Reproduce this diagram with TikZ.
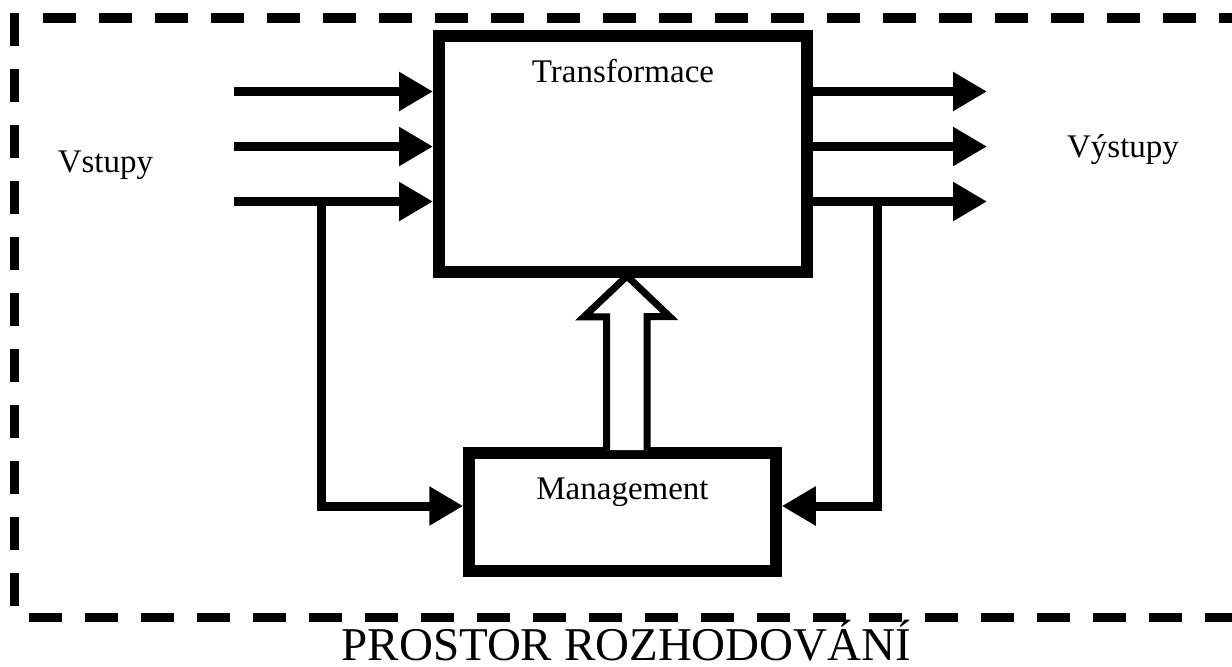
\documentclass[tikz,border=0pt]{standalone}
\usepackage{fontspec}
\setmainfont{Liberation Serif}
\usetikzlibrary{arrows.meta,calc}

\begin{document}
\begin{tikzpicture}[x=0.5pt,y=-0.5pt,
        block/.style={draw, line width=6pt, inner sep=0pt},
        txt/.style={anchor=base, inner sep=0pt, font=\fontsize{16.5}{19}\selectfont},
        flow/.style={line width=4.5pt, -{Triangle[length=17pt,width=18.5pt]}},
        hollow/.style={draw, fill=white, line width=3.5pt},
        frame/.style={line width=4.75pt, dash pattern=on 16.5pt off 11.5pt}]
        \useasboundingbox (0,0) rectangle (1232,666);
        \clip (0,0) rectangle (1232,666);

        % prostor rozhodovani
        \draw[frame] (14.5,13) -- (14.5,612);
        \draw[frame] (43,18) -- (1260,18);
        \draw[frame] (29,617.5) -- (1260,617.5);
        \node[txt, font=\fontsize{23.5}{28}\selectfont] (space) at (626.5,660) {PROSTOR ROZHODOVÁNÍ};

        \node[block, minimum width=184pt, minimum height=118pt] (trans) at (623,154) {};
        \node[txt] (transname) at (623,82) {Transformace};
        \node[block, line width=5.75pt, minimum width=153.5pt, minimum height=59pt] (mgmt) at (622.5,512) {};
        \node[txt] (mgmtname) at (622.5,499) {Management};

        \node[txt] (vstupy) at (105.5,172) {Vstupy};
        \node[txt] (vystupy) at (1123,157) {Výstupy};

        \foreach \i/\y in {1/91.5,2/146.5,3/201.5} {
            \coordinate (in\i) at (234,\y);
            \coordinate (out\i) at (987,\y);
            \draw[flow] (in\i) -- (in\i -| trans.west);
            \draw[flow] (out\i -| trans.east) -- (out\i);
        }

        % zpetna vazba
        \coordinate (fbl) at (321,506);
        \coordinate (fbr) at (877.5,506);
        \draw[flow] (in3 -| fbl) |- (fbl -| mgmt.west);
        \draw[flow] (out3 -| fbr) |- (fbr -| mgmt.east);

        \draw[hollow] ($(mgmt.north)+(-16,3)$) -- ++(0,-133.5) -- ++(-22.5,0)
            -- ($(trans.south)+(4,-2)$) -- ++(42.5,40.5) -- ++(-22.5,0) -- ++(0,133.5);
    \end{tikzpicture}
\end{document}
